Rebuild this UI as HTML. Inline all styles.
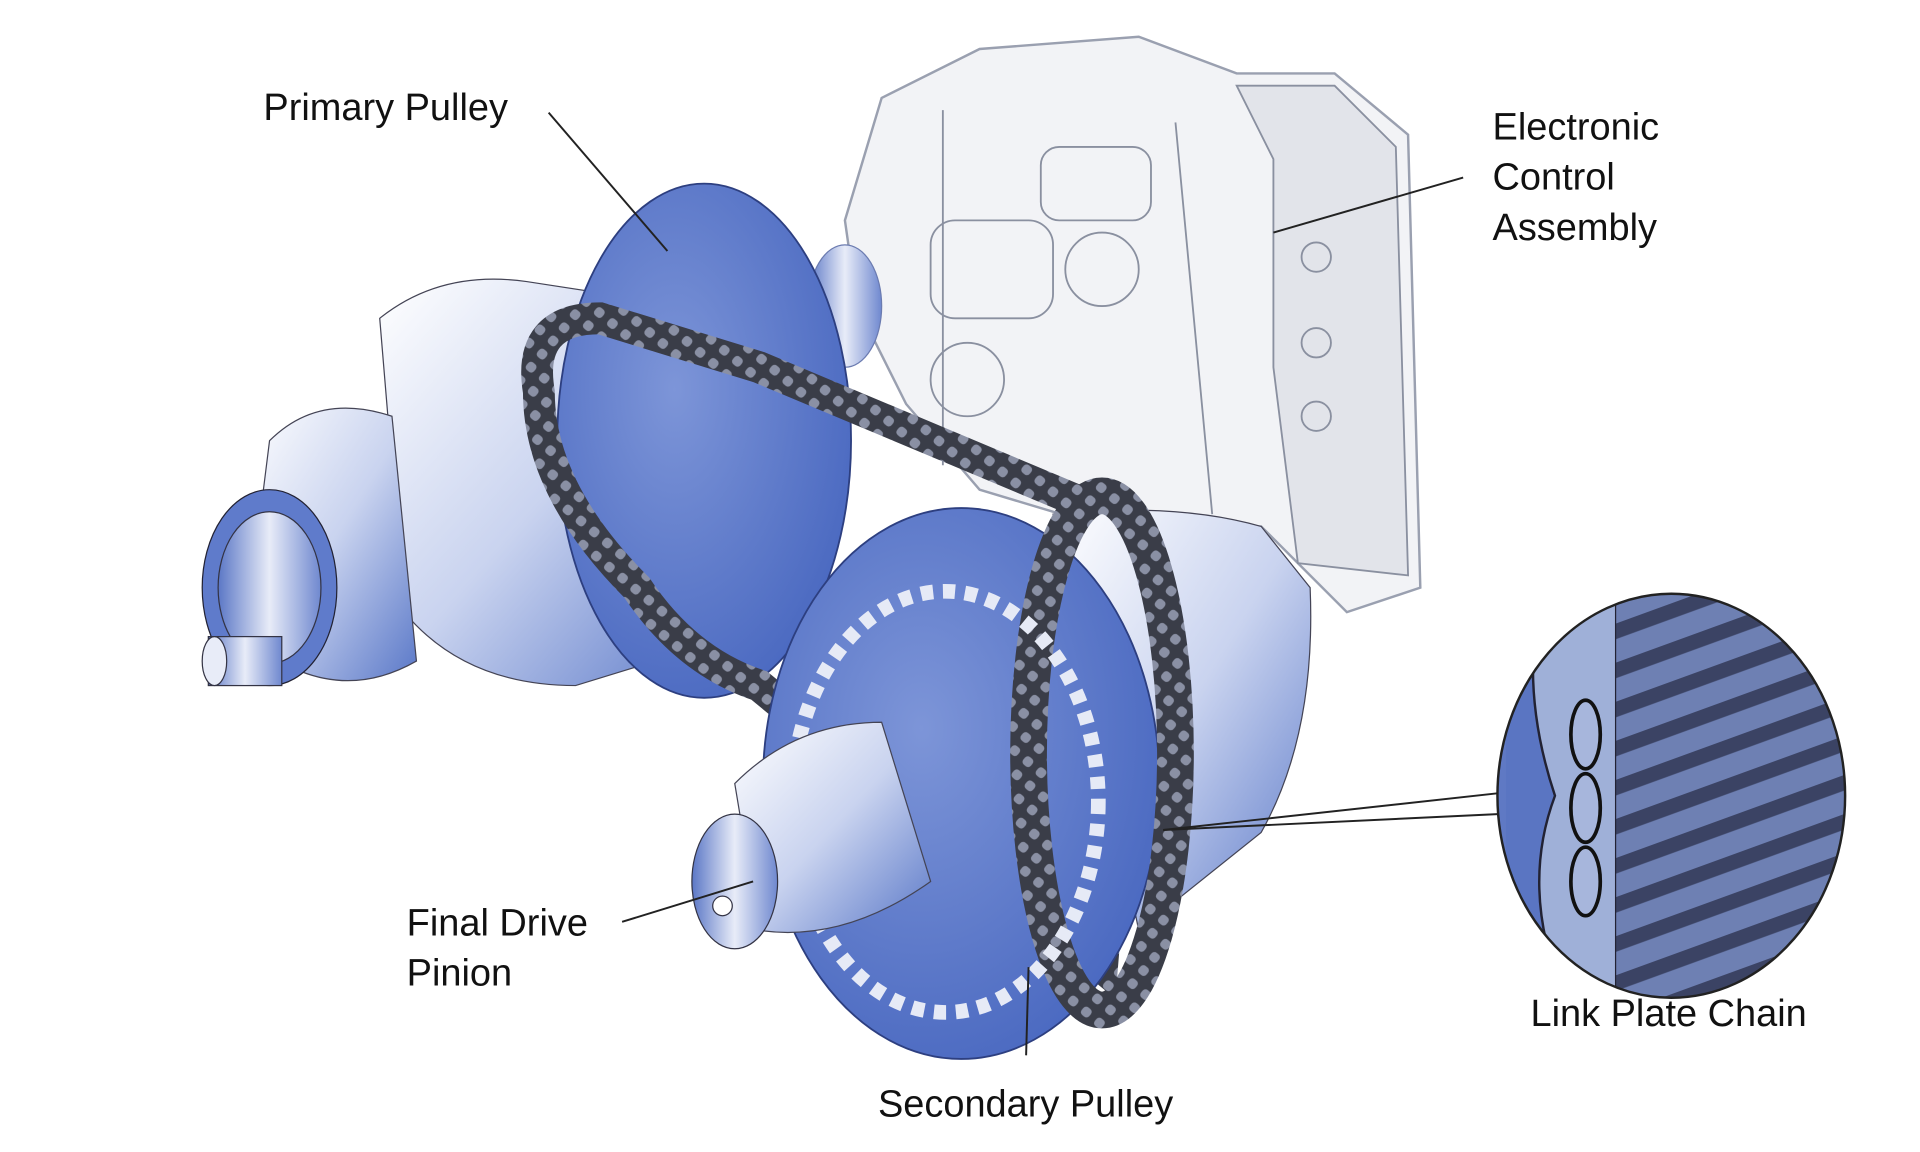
<!DOCTYPE html>
<html><head><meta charset="utf-8"><style>
html,body{margin:0;padding:0;background:#fff;}
svg{display:block}
text{font-family:"Liberation Sans",Arial,sans-serif;font-size:31px;fill:#111}
</style></head><body>
<svg width="1920" height="1152" viewBox="0 0 1568 941" xmlns="http://www.w3.org/2000/svg">
<defs>
<linearGradient id="bl" x1="0" y1="0" x2="1" y2="1">
<stop offset="0" stop-color="#ffffff"/><stop offset="0.5" stop-color="#c9d3ef"/><stop offset="1" stop-color="#5a78c8"/></linearGradient>
<linearGradient id="bl2" x1="0" y1="0" x2="1" y2="0">
<stop offset="0" stop-color="#5b77c6"/><stop offset="0.5" stop-color="#e8ecf8"/><stop offset="1" stop-color="#6f88cf"/></linearGradient>
<radialGradient id="disc" cx="0.4" cy="0.4" r="0.7">
<stop offset="0" stop-color="#7d95d8"/><stop offset="1" stop-color="#4766bf"/></radialGradient>
<pattern id="chain" width="14" height="14" patternUnits="userSpaceOnUse" patternTransform="rotate(40)">
<rect width="14" height="14" fill="#3a3d48"/><rect x="3" y="3" width="8" height="8" rx="3" fill="#8a90a4"/></pattern>
<pattern id="stripe" width="30" height="30" patternUnits="userSpaceOnUse" patternTransform="rotate(-20)">
<rect width="30" height="30" fill="#6e80b3"/><rect width="30" height="12" fill="#3b4364"/></pattern>
<clipPath id="mag"><ellipse cx="1365" cy="650" rx="142" ry="165"/></clipPath>
</defs>

<path d="M720 80 L800 40 L930 30 L1010 60 L1090 60 L1150 110 L1160 480 L1100 500 L1030 430 L900 430 L800 400 L740 330 L700 250 L690 180 Z" fill="#f2f3f6" stroke="#9aa0b0" stroke-width="2"/>
<path d="M1010 70 L1090 70 L1140 120 L1150 470 L1060 460 L1040 300 L1040 130 Z" fill="#e2e4ea" stroke="#8a90a0" stroke-width="1.5"/>
<g fill="none" stroke="#8a90a0" stroke-width="1.5">
<rect x="760" y="180" width="100" height="80" rx="20"/><circle cx="790" cy="310" r="30"/><circle cx="900" cy="220" r="30"/>
<rect x="850" y="120" width="90" height="60" rx="15"/><circle cx="1075" cy="210" r="12"/><circle cx="1075" cy="280" r="12"/><circle cx="1075" cy="340" r="12"/>
<line x1="770" y1="90" x2="770" y2="380"/><line x1="960" y1="100" x2="990" y2="420"/>
</g>
<ellipse cx="690" cy="250" rx="30" ry="50" fill="url(#bl2)" stroke="#6b7bb0"/>

<path d="M310 260 Q360 220 430 230 L560 250 L600 520 L470 560 Q380 560 330 500 Z" fill="url(#bl)" stroke="#445" stroke-width="1"/>
<ellipse cx="575" cy="360" rx="120" ry="210" fill="url(#disc)" stroke="#2d3f80" stroke-width="1.5"/>
<path d="M220 360 Q260 320 320 340 L340 540 Q270 580 200 520 Z" fill="url(#bl)" stroke="#445"/>
<ellipse cx="220" cy="480" rx="55" ry="80" fill="#5f7bcb" stroke="#223"/>
<ellipse cx="220" cy="480" rx="42" ry="62" fill="url(#bl2)" stroke="#334"/>
<rect x="170" y="520" width="60" height="40" fill="url(#bl2)" stroke="#334"/>
<ellipse cx="175" cy="540" rx="10" ry="20" fill="#e8ecf8" stroke="#334"/>

<path d="M440 320 Q430 260 490 260 L620 300 L930 430 L900 790 L620 560 Q560 540 520 480 Q440 400 440 320 Z" fill="none" stroke="url(#chain)" stroke-width="26"/>

<path d="M860 420 Q960 410 1030 430 L1070 480 Q1075 600 1030 680 L930 760 Z" fill="url(#bl)" stroke="#445"/>
<ellipse cx="785" cy="640" rx="162" ry="225" fill="url(#disc)" stroke="#2d3f80" stroke-width="1.5"/>
<ellipse cx="900" cy="615" rx="60" ry="210" fill="none" stroke="url(#chain)" stroke-width="30"/>
<ellipse cx="772" cy="655" rx="125" ry="172" fill="none" stroke="#e6eaf6" stroke-width="12" stroke-dasharray="10 8"/>
<path d="M600 640 Q650 590 720 590 L760 720 Q690 770 620 760 Z" fill="url(#bl)" stroke="#445"/>
<ellipse cx="600" cy="720" rx="35" ry="55" fill="url(#bl2)" stroke="#334"/>
<circle cx="590" cy="740" r="8" fill="#fff" stroke="#334"/>

<ellipse cx="1365" cy="650" rx="142" ry="165" fill="#5f79c4"/>
<g clip-path="url(#mag)">
<rect x="1230" y="480" width="70" height="340" fill="#5a75c2"/>
<path d="M1260 480 Q1240 560 1270 650 Q1240 730 1280 820 L1320 820 L1320 480 Z" fill="#9fb0d8" stroke="#223" stroke-width="2"/>
<ellipse cx="1295" cy="600" rx="12" ry="28" fill="#a7b6dc" stroke="#111" stroke-width="3"/>
<ellipse cx="1295" cy="660" rx="12" ry="28" fill="#a7b6dc" stroke="#111" stroke-width="3"/>
<ellipse cx="1295" cy="720" rx="12" ry="28" fill="#a7b6dc" stroke="#111" stroke-width="3"/>
<rect x="1320" y="480" width="190" height="340" fill="url(#stripe)"/>
</g>
<ellipse cx="1365" cy="650" rx="142" ry="165" fill="none" stroke="#222" stroke-width="2"/>

<g stroke="#222" stroke-width="1.6" fill="none">
<line x1="448" y1="92" x2="545" y2="205"/>
<line x1="1195" y1="145" x2="1040" y2="190"/>
<line x1="950" y1="678" x2="1223" y2="648"/>
<line x1="950" y1="678" x2="1223" y2="665"/>
<line x1="508" y1="753" x2="615" y2="720"/>
<line x1="838" y1="862" x2="840" y2="790"/>
</g>

<text x="215" y="98">Primary Pulley</text>
<text x="1219" y="114">Electronic</text>
<text x="1219" y="155">Control</text>
<text x="1219" y="196">Assembly</text>
<text x="332" y="764">Final Drive</text>
<text x="332" y="805">Pinion</text>
<text x="1250" y="838">Link Plate Chain</text>
<text x="717" y="912">Secondary Pulley</text>
</svg>
</body></html>
